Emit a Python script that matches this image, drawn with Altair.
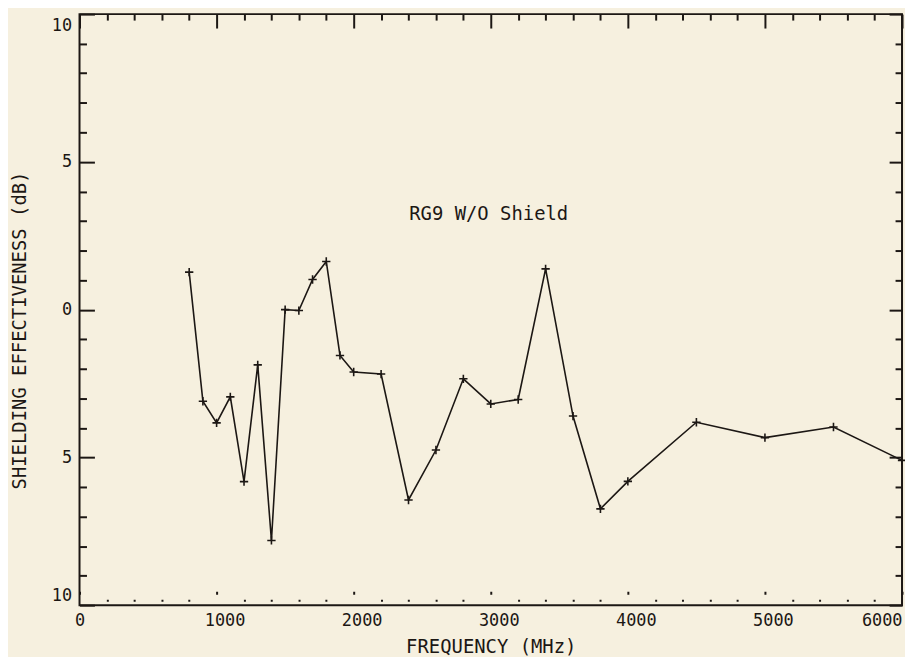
import altair as alt
import pandas as pd

# ---- data ----
freq_mhz = [800, 900, 1000, 1100, 1200, 1300, 1400, 1500, 1600, 1700, 1800,
            1900, 2000, 2200, 2400, 2600, 2800, 3000, 3200, 3400, 3600, 3800,
            4000, 4500, 5000, 5500, 6000]
shield_db = [1.27, -3.10, -3.83, -2.95, -5.82, -1.87, -7.81, 0.0, -0.03, 1.02,
             1.63, -1.55, -2.11, -2.18, -6.44, -4.75, -2.34, -3.19, -3.04, 1.38,
             -3.60, -6.74, -5.81, -3.81, -4.33, -3.97, -5.10]

x_major = [0, 1000, 2000, 3000, 4000, 5000, 6000]
x_ticks = list(range(0, 6001, 200))
y_major = [-10, -5, 0, 5, 10]
y_ticks = list(range(-10, 11))

annotation_text = ["RG9 W/O Shield"]
annotation_x = [2985]
annotation_y = [3.24]

W, H = 828, 595
INK = "#1c1714"
FONT = "DejaVu Sans Mono"
BG = "#f6f0df"

df = pd.DataFrame({"f": freq_mhz, "se": shield_db})
ann = pd.DataFrame({"f": annotation_x, "se": annotation_y, "t": annotation_text})

xs = alt.Scale(domain=[0, 6000], nice=False, zero=False)
ys = alt.Scale(domain=[-10, 10], nice=False, zero=False)

# main axes with labels / titles
x_lab_axis = alt.Axis(
    orient="bottom", values=x_major, ticks=False, tickSize=0, domain=False, grid=False,
    labelFont=FONT, labelFontSize=17, labelColor=INK, labelPadding=7,
    labelFlush=False, labelOverlap=False,
    labelAlign={"condition": {"test": "datum.value >= 6000", "value": "right"}, "value": "center"},
    labelOffset={"condition": {"test": "datum.value > 0 && datum.value < 6000", "value": 8}, "value": 0},
    format="d",
    title="FREQUENCY (MHz)", titleFont=FONT, titleFontSize=19, titleFontWeight="normal",
    titleColor=INK, titleX=414, titleY=42, titleBaseline="middle", titleAlign="center",
)
y_lab_axis = alt.Axis(
    orient="left", values=y_major, ticks=False, tickSize=0, domain=False, grid=False,
    labelFont=FONT, labelFontSize=17, labelColor=INK, labelPadding=8,
    labelFlush=False, labelOverlap=False,
    labelExpr="'' + abs(datum.value)",
    labelOffset={"condition": [
        {"test": "datum.value >= 10", "value": 11},
        {"test": "datum.value <= -10", "value": -10},
    ], "value": 0},
    title="SHIELDING EFFECTIVENESS (dB)", titleFont=FONT, titleFontSize=19,
    titleFontWeight="normal", titleColor=INK, titleX=-60, titleY=318,
    titleBaseline="middle", titleAlign="center", titleAngle=270,
)

line = alt.Chart(df).mark_line(color=INK, strokeWidth=1.6).encode(
    x=alt.X("f:Q", scale=xs, axis=x_lab_axis),
    y=alt.Y("se:Q", scale=ys, axis=y_lab_axis),
)

points = alt.Chart(df).mark_point(
    shape="M-1,0H1M0,-1V1", filled=False, size=70, strokeWidth=1.6, color=INK, opacity=1
).encode(
    x=alt.X("f:Q", scale=xs, axis=None),
    y=alt.Y("se:Q", scale=ys, axis=None),
)

label = alt.Chart(ann).mark_text(
    font=FONT, fontSize=19, color=INK, align="center", baseline="middle"
).encode(
    x=alt.X("f:Q", scale=xs, axis=None),
    y=alt.Y("se:Q", scale=ys, axis=None),
    text="t:N",
)

x_major_test = "datum.value % 1000 === 0"
y_major_test = "datum.value % 5 === 0"

# bottom ticks (pointing up) + left ticks (pointing right)
ticks_b = alt.Chart(df).mark_point(opacity=0).encode(
    x=alt.X("f:Q", scale=xs, axis=alt.Axis(
        orient="top", offset=-H, values=x_ticks, labels=False, domain=False, grid=False,
        title=None, tickColor=INK, tickWidth=2,
        tickSize={"condition": {"test": x_major_test, "value": 14}, "value": 6},
        tickDash={"condition": {"test": x_major_test, "value": [0, 11, 3, 30]},
                  "value": [0, 4, 2, 30]},
    )),
    y=alt.Y("se:Q", scale=ys, axis=alt.Axis(
        orient="right", offset=-W, values=y_ticks, labels=False, domain=False, grid=False,
        title=None, tickColor=INK, tickWidth=2,
        tickSize={"condition": {"test": y_major_test, "value": 15}, "value": 7},
    )),
)

# top ticks (pointing down) + right ticks (pointing left)
ticks_t = alt.Chart(df).mark_point(opacity=0).encode(
    x=alt.X("f:Q", scale=xs, axis=alt.Axis(
        orient="bottom", offset=-H, values=x_ticks, labels=False, domain=False, grid=False,
        title=None, tickColor=INK, tickWidth=2,
        tickSize={"condition": {"test": x_major_test, "value": 14}, "value": 6},
    )),
    y=alt.Y("se:Q", scale=ys, axis=alt.Axis(
        orient="left", offset=-W, values=y_ticks, labels=False, domain=False, grid=False,
        title=None, tickColor=INK, tickWidth=2,
        tickSize={"condition": {"test": y_major_test, "value": 13}, "value": 7},
    )),
)

chart = alt.layer(line, points, label, ticks_b, ticks_t).resolve_axis(
    x="independent", y="independent"
).properties(
    width=W, height=H,
    autosize=alt.AutoSizeParams(type="none"),
    padding={"left": 72, "top": 4, "right": 3, "bottom": 50},
    background=BG,
).configure_view(
    stroke=INK, strokeWidth=2, fill=BG
)

chart.save("out.html", embed_options={"renderer": "svg", "actions": False})
